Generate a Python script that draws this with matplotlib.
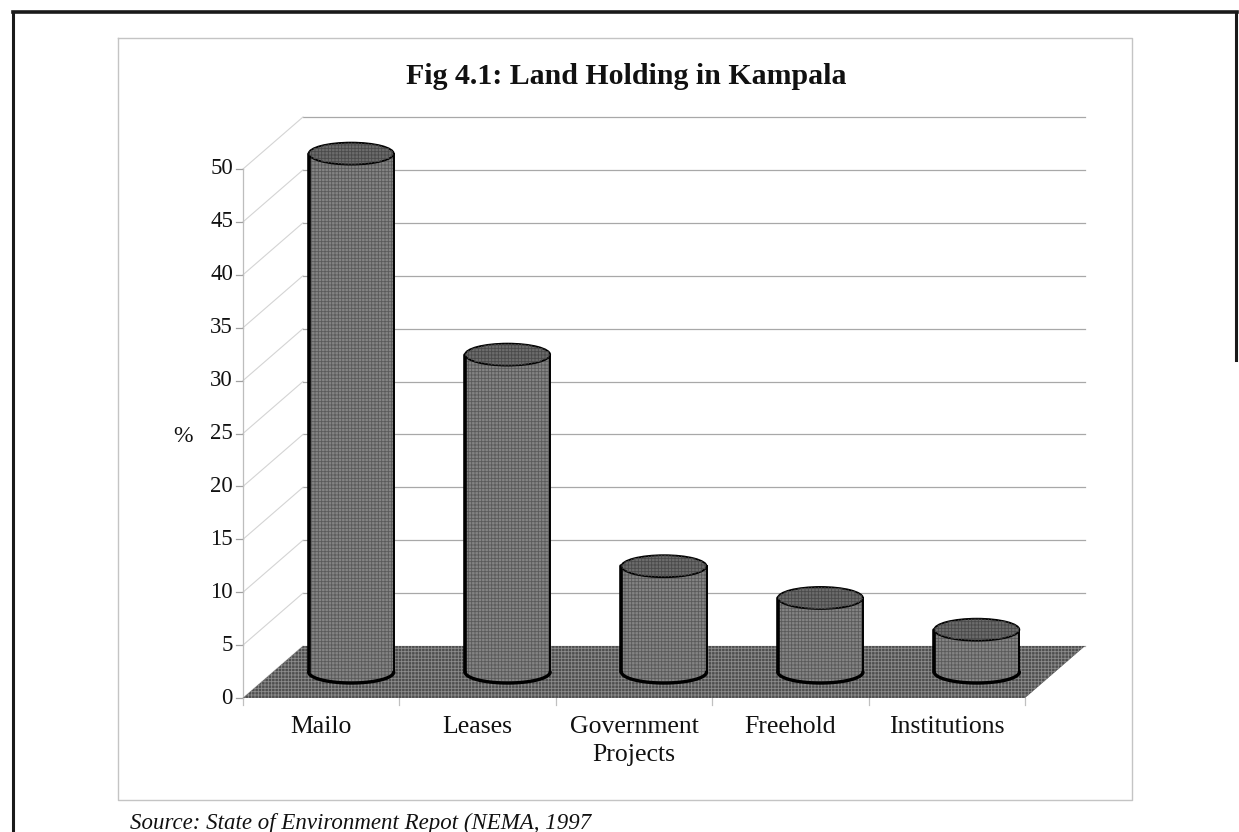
import numpy as np
import matplotlib
matplotlib.use("Agg")
import matplotlib.pyplot as plt
from matplotlib.patches import Polygon, Ellipse
from matplotlib.lines import Line2D
from matplotlib.transforms import IdentityTransform

# ---------------- data ----------------
categories = ["Mailo", "Leases", "Government\nProjects", "Freehold", "Institutions"]
values = [49, 30, 10, 7, 4]
yticks = [0, 5, 10, 15, 20, 25, 30, 35, 40, 45, 50]
title = "Fig 4.1: Land Holding in Kampala"
ylabel = "%"
source = "Source: State of Environment Repot (NEMA, 1997"

# ---------------- figure ----------------
W, H = 1239, 832
plt.rcParams["font.family"] = ["Liberation Serif", "DejaVu Serif"]
plt.rcParams["hatch.linewidth"] = 0.6
fig = plt.figure(figsize=(W / 100, H / 100), dpi=100)
fig.patch.set_facecolor("white")

ax = fig.add_axes([243 / W, 134 / H, 782 / W, 529 / H])
ax.set_xlim(-0.5, len(categories) - 0.5)
ax.set_ylim(0, 50)
ax.axis("off")

DEPTH = np.array([60.0, 52.0])  # display offset of the back wall
ID = IdentityTransform()


def P(x, v, d):
    """data (category x, value v) at depth fraction d -> display pixels"""
    return ax.transData.transform((x, v)) + d * DEPTH


def line(pts, **kw):
    pts = np.asarray(pts)
    fig.add_artist(Line2D(pts[:, 0], pts[:, 1], transform=ID, **kw))


def poly(pts, **kw):
    fig.add_artist(Polygon(np.asarray(pts), closed=True, transform=ID, **kw))


x0, x1 = -0.5, len(categories) - 0.5

# back wall gridlines and side wall
for t in yticks:
    line([P(x0, t, 1), P(x1, t, 1)], color="#a8a8a8", lw=0.9, zorder=1)
    line([P(x0, t, 0), P(x0, t, 1)], color="#d4d4d4", lw=0.8, zorder=1)
    line([P(x0, t, 0) - np.array([7, 0]), P(x0, t, 0)], color="#a0a0a0", lw=0.9, zorder=1)
    ax.annotate(str(t), (x0, t), xytext=(-10, 0), textcoords="offset pixels",
                ha="right", va="center", fontsize=16.5, color="#111111",
                annotation_clip=False)
line([P(x0, 0, 0), P(x0, 50, 0)], color="#bdbdbd", lw=0.9, zorder=1)

# category boundary ticks
for k in range(len(categories) + 1):
    b = P(x0 + k, 0, 0)
    line([b, b - np.array([0, 7])], color="#c0c0c0", lw=0.9, zorder=1)

# floor
floor = [P(x0, 0, 0), P(x1, 0, 0), P(x1, 0, 1), P(x0, 0, 1)]
poly(floor, facecolor="#4e4e4e", edgecolor="none", zorder=2)
poly(floor, facecolor="none", edgecolor="#8c8c8c", lw=0, hatch="+++++", zorder=2)

# cylinders
r = 0.272
eh = 11.0
theta = np.linspace(np.pi, 2 * np.pi, 80)
for i, v in enumerate(values):
    L = P(i - r, 0, 0.5)
    R = P(i + r, 0, 0.5)
    T = P(i - r, v, 0.5)
    cx = (L[0] + R[0]) / 2
    rx = (R[0] - L[0]) / 2
    yb, yt = L[1], T[1]
    arc = np.column_stack([cx + rx * np.cos(theta), yb + eh * np.sin(theta)])
    body = np.vstack([[cx - rx, yt], arc, [cx + rx, yt]])
    z = 3 + i * 0.1
    poly(body, facecolor="#848484", edgecolor="none", zorder=z)
    poly(body, facecolor="none", edgecolor="#5a5a5a", lw=0, hatch="+++++", zorder=z)
    line([[cx - rx, yt], [cx - rx, yb]], color="black", lw=2.6, zorder=z + 0.02,
         solid_capstyle="round")
    line([[cx + rx, yt], [cx + rx, yb]], color="black", lw=1.4, zorder=z + 0.02)
    line(arc, color="black", lw=2.4, zorder=z + 0.02, solid_capstyle="round")
    top = Ellipse((cx, yt), 2 * rx, 2 * eh, transform=ID, facecolor="#6c6c6c",
                  edgecolor="black", lw=1.3, zorder=z + 0.03)
    fig.add_artist(top)
    top_h = Ellipse((cx, yt), 2 * rx, 2 * eh, transform=ID, facecolor="none",
                    edgecolor="#4a4a4a", lw=0, hatch="+++++", zorder=z + 0.04)
    fig.add_artist(top_h)

# category labels
for i, c in enumerate(categories):
    ax.annotate(c, (i, 0), xytext=(0, -18), textcoords="offset pixels",
                ha="center", va="top", fontsize=18.5, linespacing=1.35,
                color="#111111", annotation_clip=False)

# texts
fig.text(626 / W, 1 - 76 / H, title, ha="center", va="center",
         fontsize=21.5, fontweight="bold", color="#111111")
fig.text(183 / W, 1 - 437 / H, ylabel, ha="center", va="center",
         fontsize=17, color="#111111")
fig.text(130 / W, 1 - 829 / H, source, ha="left", va="baseline",
         fontsize=16.5, style="italic", color="#111111")

# frames
def fline(xs, ys, **kw):
    fig.add_artist(Line2D(np.array(xs) / W, 1 - np.array(ys) / H,
                          transform=fig.transFigure, **kw))

fline([13, 13], [12, 832], color="#1a1a1a", lw=2.2)
fline([13, 1237], [12, 12], color="#1a1a1a", lw=2.6)
fline([1236, 1236], [12, 360], color="#1a1a1a", lw=2.2)
fline([118, 1132, 1132, 118, 118], [38, 38, 800, 800, 38], color="#c4c4c4", lw=1.0)

fig.savefig("out.png", dpi=100, facecolor="white")
